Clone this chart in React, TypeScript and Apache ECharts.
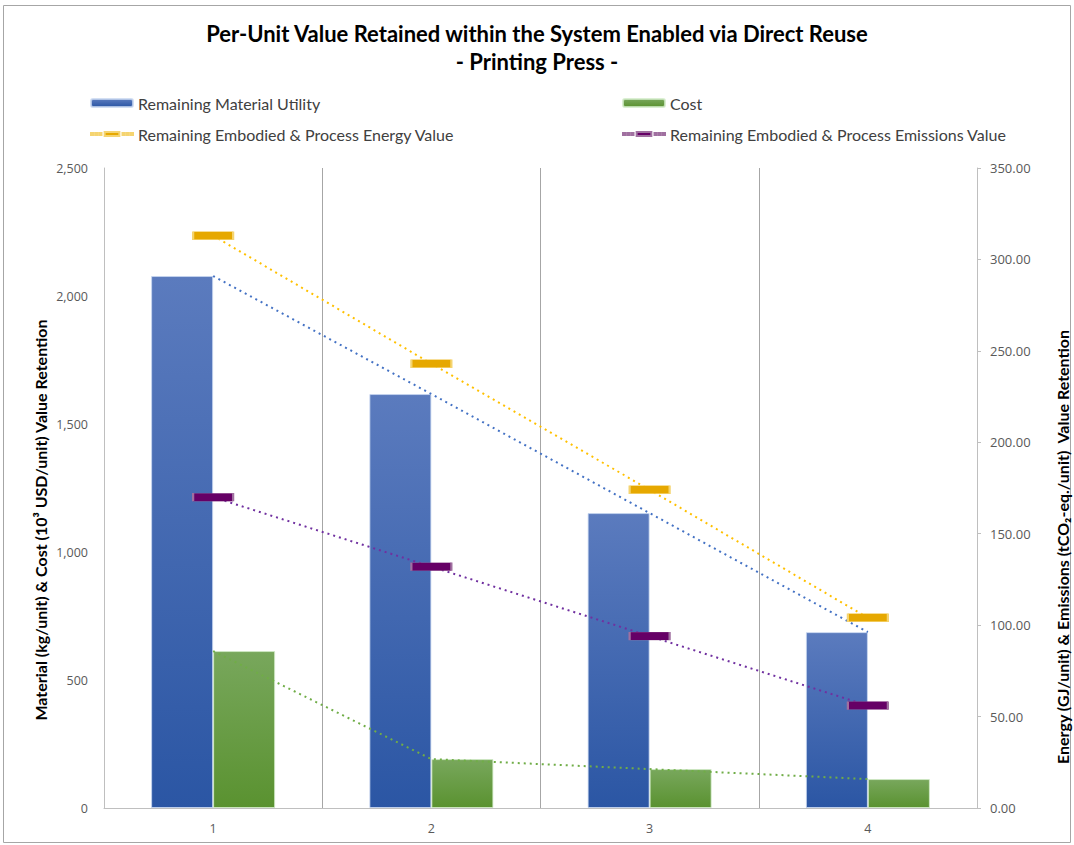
import React, { useEffect, useRef } from "react";
import * as echarts from "echarts";

const categories = ["1", "2", "3", "4"];
const materialValues = [2078, 1617, 1152, 687];
const costValues = [613, 191, 152, 113];
const energyValues = [313, 243, 174, 104];
const emissionsValues = [170, 132, 94, 56];

const titleLines = [
  "Per-Unit Value Retained within the System Enabled via Direct Reuse",
  "- Printing Press -",
];
const seriesNames = [
  "Remaining Material Utility",
  "Cost",
  "Remaining Embodied & Process Energy Value",
  "Remaining Embodied & Process Emissions Value",
];
const leftAxisName = "Material (kg/unit) & Cost (10³ USD/unit) Value Retention";
const rightAxisName = "Energy (GJ/unit) & Emissions (tCO₂-eq./unit)  Value Retention";

const FONT = "Lato, 'Open Sans', sans-serif";
const TICK_FONT = "'Open Sans', sans-serif";

const lineIcon =
  "path://M0 3h2v2h-2z M4 3h2v2h-2z M8 3h2v2h-2z M13 2h14v4h-14z M30 3h2v2h-2z M34 3h2v2h-2z M38 3h2v2h-2z";

export default function App() {
  const ref = useRef<HTMLDivElement>(null);
  useEffect(() => {
    if (!ref.current) return;
    const chart = echarts.init(ref.current, null, { renderer: "svg" });
    const blueGrad = new echarts.graphic.LinearGradient(0, 0, 0, 1, [
      { offset: 0, color: "#5B7BBE" },
      { offset: 1, color: "#2B56A4" },
    ]);
    const greenGrad = new echarts.graphic.LinearGradient(0, 0, 0, 1, [
      { offset: 0, color: "#78A75C" },
      { offset: 1, color: "#5A9230" },
    ]);
    const legendText = { fontFamily: FONT, fontSize: 16, color: "#404040" };
    chart.setOption({
      animation: false,
      backgroundColor: "#fff",
      title: {
        text: titleLines.join("\n"),
        left: "center",
        top: 14,
        textStyle: {
          fontFamily: FONT,
          fontSize: 22,
          fontWeight: "bold",
          color: "#000",
          lineHeight: 28,
        },
      },
      graphic: [
        {
          type: "rect",
          shape: { x: 3.5, y: 5.5, width: 1067, height: 837 },
          style: { fill: "none", stroke: "#A6A6A6", lineWidth: 1 },
          silent: true,
        },
        {
          type: "text",
          x: 40,
          y: 520,
          rotation: Math.PI / 2,
          style: {
            text: leftAxisName,
            fontFamily: FONT,
            fontSize: 16,
            fontWeight: "bold",
            fill: "#000",
            align: "center",
            verticalAlign: "middle",
          },
          silent: true,
        },
        {
          type: "text",
          x: 1062,
          y: 547,
          rotation: Math.PI / 2,
          style: {
            text: rightAxisName,
            fontFamily: FONT,
            fontSize: 16,
            fontWeight: "bold",
            fill: "#000",
            align: "center",
            verticalAlign: "middle",
          },
          silent: true,
        },
      ],
      legend: [
        {
          data: [seriesNames[0], { name: seriesNames[2], icon: lineIcon }],
          orient: "vertical",
          left: 90,
          top: 95,
          padding: 0,
          itemWidth: 42,
          itemHeight: 8,
          itemGap: 15,
          textStyle: legendText,
        },
        {
          data: [seriesNames[1], { name: seriesNames[3], icon: lineIcon }],
          orient: "vertical",
          left: 622,
          top: 95,
          padding: 0,
          itemWidth: 42,
          itemHeight: 8,
          itemGap: 15,
          textStyle: legendText,
        },
      ],
      grid: { left: 104, right: 97, top: 168, bottom: 37, containLabel: false },
      xAxis: {
        type: "category",
        data: categories,
        axisLine: { lineStyle: { color: "#BFBFBF" } },
        axisTick: { show: false },
        axisLabel: { fontFamily: TICK_FONT, fontSize: 12.5, color: "#595959", margin: 14 },
        splitLine: { show: true, lineStyle: { color: "#A6A6A6", width: 1 } },
      },
      yAxis: [
        {
          type: "value",
          min: 0,
          max: 2500,
          interval: 500,
          axisLine: { show: true, lineStyle: { color: "#BFBFBF" } },
          axisTick: { show: false },
          splitLine: { show: false },
          axisLabel: {
            fontFamily: TICK_FONT,
            fontSize: 12.5,
            color: "#595959",
            margin: 16,
            formatter: (v: number) => v.toLocaleString("en-US"),
          },
        },
        {
          type: "value",
          min: 0,
          max: 350,
          interval: 50,
          position: "right",
          axisLine: { show: true, lineStyle: { color: "#BFBFBF" } },
          axisTick: { show: true, length: 4, lineStyle: { color: "#BFBFBF" } },
          splitLine: { show: false },
          axisLabel: {
            fontFamily: TICK_FONT,
            fontSize: 13,
            color: "#595959",
            margin: 13,
            formatter: (v: number) => v.toFixed(2),
          },
        },
      ],
      series: [
        {
          name: seriesNames[0],
          type: "bar",
          data: materialValues,
          barWidth: 62,
          barGap: "0%",
          itemStyle: { color: blueGrad, borderColor: "rgba(200,215,240,0.8)", borderWidth: 1 },
          z: 2,
        },
        {
          name: seriesNames[1],
          type: "bar",
          data: costValues,
          barWidth: 62,
          barGap: "0%",
          itemStyle: { color: greenGrad, borderColor: "rgba(210,235,200,0.8)", borderWidth: 1 },
          z: 2,
        },
        {
          name: "materialTrend",
          type: "line",
          data: materialValues,
          showSymbol: false,
          symbol: "none",
          lineStyle: { color: "#4472C4", width: 2, type: [2, 4] },
          z: 3,
          silent: true,
        },
        {
          name: "costTrend",
          type: "line",
          data: costValues,
          showSymbol: false,
          symbol: "none",
          lineStyle: { color: "#70AD47", width: 2, type: [2, 4] },
          z: 3,
          silent: true,
        },
        {
          name: seriesNames[2],
          type: "line",
          yAxisIndex: 1,
          data: energyValues,
          symbol: "rect",
          symbolSize: [40, 8],
          itemStyle: { color: "#E6A800", borderColor: "#F5D470", borderWidth: 1 },
          lineStyle: { color: "#FFC000", width: 2, type: [2, 4] },
          z: 4,
        },
        {
          name: seriesNames[3],
          type: "line",
          yAxisIndex: 1,
          data: emissionsValues,
          symbol: "rect",
          symbolSize: [40, 8],
          itemStyle: { color: "#660066", borderColor: "#A070A0", borderWidth: 1 },
          lineStyle: { color: "#7030A0", width: 2, type: [2, 4] },
          z: 4,
        },
      ],
    });
    return () => chart.dispose();
  }, []);
  return (
    <div
      ref={ref}
      style={{ position: "fixed", left: 0, top: 0, width: 1074, height: 845 }}
    />
  );
}
